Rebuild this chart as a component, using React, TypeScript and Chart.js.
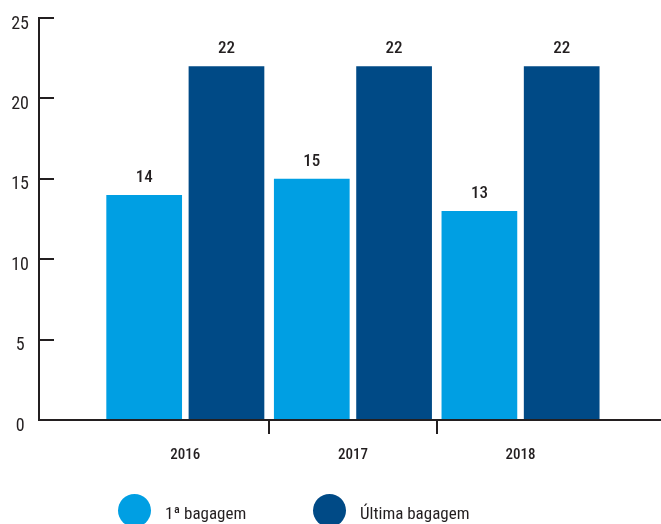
import React, { useEffect, useRef } from 'react';
import { Chart, registerables } from 'chart.js';

Chart.register(...registerables);

const categories = ['2016', '2017', '2018'];
const firstBag = [14, 15, 13];
const lastBag = [22, 22, 22];
const seriesLabels = ['1ª bagagem', 'Última bagagem'];
const seriesColors = ['#009fe3', '#004a86'];
const yMax = 25;
const yStep = 5;

const FONT = '"Liberation Sans Narrow", "Roboto Condensed", Roboto, "Noto Sans", sans-serif';
const TEXT = '#231f20';

const dataLabelsPlugin = {
  id: 'dataLabels',
  afterDatasetsDraw(chart: any) {
    const ctx = chart.ctx;
    ctx.save();
    ctx.font = `500 17px ${FONT}`;
    ctx.fillStyle = TEXT;
    ctx.textAlign = 'center';
    ctx.textBaseline = 'alphabetic';
    chart.data.datasets.forEach((ds: any, di: number) => {
      const meta = chart.getDatasetMeta(di);
      meta.data.forEach((el: any, i: number) => {
        ctx.fillText(String(ds.data[i].y), el.x, el.y - 13);
      });
    });
    ctx.restore();
  },
};

const customLegendPlugin = {
  id: 'customLegend',
  afterDraw(chart: any, _args: any, opts: any) {
    const ctx = chart.ctx;
    ctx.save();
    ctx.font = `17px ${FONT}`;
    ctx.textAlign = 'left';
    ctx.textBaseline = 'alphabetic';
    chart.data.datasets.forEach((ds: any, i: number) => {
      const cx = opts.x0 + i * opts.spacing;
      ctx.beginPath();
      ctx.arc(cx, opts.cy, opts.r, 0, Math.PI * 2);
      ctx.fillStyle = ds.backgroundColor;
      ctx.fill();
      ctx.fillStyle = TEXT;
      ctx.fillText(ds.label, cx + opts.textGap, opts.baseline);
    });
    ctx.restore();
  },
};

export default function App() {
  const ref = useRef<HTMLCanvasElement | null>(null);

  useEffect(() => {
    document.body.style.margin = '0';
    if (!ref.current) return;
    const toPoints = (vals: number[]) => vals.map((v, i) => ({ x: i + 1, y: v }));
    const chart = new Chart(ref.current, {
      type: 'bar',
      data: {
        datasets: [
          { label: seriesLabels[0], data: toPoints(firstBag), backgroundColor: seriesColors[0], borderWidth: 0 },
          { label: seriesLabels[1], data: toPoints(lastBag), backgroundColor: seriesColors[1], borderWidth: 0 },
        ],
      },
      options: {
        responsive: false,
        animation: false,
        devicePixelRatio: 1,
        categoryPercentage: 1.964,
        barPercentage: 0.92,
        layout: { padding: { top: 18, bottom: 64, left: 0, right: 0 } },
        plugins: {
          legend: { display: false },
          tooltip: { enabled: false },
          customLegend: { x0: 134.5, spacing: 195, cy: 510.5, r: 16.5, textGap: 30.5, baseline: 519 },
        } as any,
        scales: {
          x: {
            type: 'linear',
            min: 0.127,
            max: 3.838,
            offset: false,
            afterBuildTicks: (scale: any) => {
              const t: any[] = [];
              categories.forEach((_, i) => {
                t.push({ value: i + 1 });
                if (i < categories.length - 1) t.push({ value: i + 1.5 });
              });
              scale.ticks = t;
            },
            afterFit: (scale: any) => {
              scale.height = 40;
            },
            ticks: {
              autoSkip: false,
              maxRotation: 0,
              padding: 12,
              color: TEXT,
              font: { family: FONT, size: 15, weight: '500' as any },
              callback: (v: any) => (Number.isInteger(v) ? categories[v - 1] : ''),
            },
            grid: {
              display: true,
              offset: false,
              drawOnChartArea: false,
              drawTicks: true,
              tickLength: 14,
              lineWidth: 2,
              color: (c: any) => (c.tick && !Number.isInteger(c.tick.value) ? TEXT : 'rgba(0,0,0,0)'),
            },
            border: { display: true, color: TEXT, width: 2 },
          },
          y: {
            min: 0,
            max: yMax,
            afterFit: (scale: any) => {
              scale.width = 39;
              scale.paddingTop = 0;
              scale.paddingBottom = 0;
            },
            ticks: {
              stepSize: yStep,
              crossAlign: 'center',
              padding: 25,
              labelOffset: 6,
              color: TEXT,
              font: { family: FONT, size: 18 },
            },
            grid: {
              display: true,
              drawOnChartArea: false,
              drawTicks: true,
              tickLength: -15,
              lineWidth: 2,
              color: TEXT,
            },
            border: { display: true, color: TEXT, width: 2 },
          },
        },
      },
      plugins: [dataLabelsPlugin, customLegendPlugin],
    });
    return () => chart.destroy();
  }, []);

  return (
    <div style={{ width: 661, height: 524, overflow: 'hidden' }}>
      <canvas ref={ref} width={661} height={524} style={{ display: 'block' }} />
    </div>
  );
}
